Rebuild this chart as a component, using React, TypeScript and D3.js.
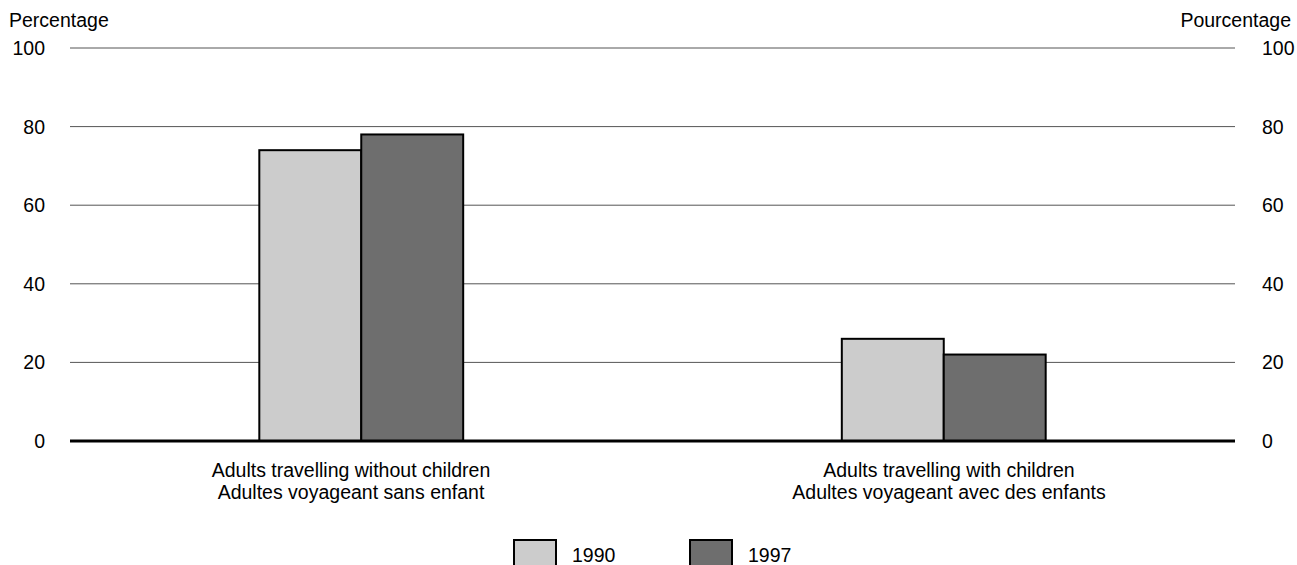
import React from "react";
import * as d3 from "d3";

const categories = [
  ["Adults travelling without children", "Adultes voyageant sans enfant"],
  ["Adults travelling with children", "Adultes voyageant avec des enfants"],
];
const series = ["1990", "1997"];
const values1990 = [74, 26];
const values1997 = [78, 22];
const ticks = [0, 20, 40, 60, 80, 100];
const colors = ["#cccccc", "#6e6e6e"];

export default function App() {
  const W = 1297, H = 565;
  const left = 70, right = 1235, top = 48, bottom = 441;
  const x = d3.scaleBand<number>().domain([0, 1]).range([left, right]);
  const xLabel = d3.scaleBand<number>().domain([0, 1]).range([52, 1248]);
  const y = d3.scaleLinear().domain([0, 100]).range([bottom, top]);
  const barW = x.bandwidth() * 0.175;
  const font = "'Liberation Sans', Arial, sans-serif";
  const fs = 19.5;
  const data = [values1990, values1997];
  return (
    <svg width={W} height={H} style={{ position: "absolute", left: 0, top: 0 }} fontFamily={font}>
      <rect width={W} height={H} fill="#fff" />
      <text x={9} y={27} fontSize={fs}>Percentage</text>
      <text x={1291} y={27} fontSize={fs} textAnchor="end">Pourcentage</text>
      {ticks.map((t) => (
        <g key={t}>
          {t !== 0 && <line x1={left} x2={right} y1={y(t)} y2={y(t)} stroke="#555" strokeWidth={1} />}
          <text x={45} y={y(t) + 7} fontSize={fs} textAnchor="end">{t}</text>
          <text x={1262} y={y(t) + 7} fontSize={fs}>{t}</text>
        </g>
      ))}
      {categories.map((c, i) => {
        const cx = x(i)! + x.bandwidth() / 2;
        const lx = xLabel(i)! + xLabel.bandwidth() / 2;
        return (
          <g key={i}>
            {series.map((s, j) => {
              const v = data[j][i];
              return (
                <rect key={s} x={cx - barW + j * barW} y={y(v)} width={barW} height={bottom - y(v)}
                  fill={colors[j]} stroke="#000" strokeWidth={2} />
              );
            })}
            <text x={lx} y={477} fontSize={fs} textAnchor="middle">{c[0]}</text>
            <text x={lx} y={499} fontSize={fs} textAnchor="middle">{c[1]}</text>
          </g>
        );
      })}
      <line x1={left} x2={right} y1={bottom} y2={bottom} stroke="#000" strokeWidth={3} />
      {series.map((s, j) => {
        const lx = j === 0 ? 514 : 690;
        return (
          <g key={s}>
            <rect x={lx} y={540} width={42} height={30} fill={colors[j]} stroke="#000" strokeWidth={2} />
            <text x={lx + 58} y={562} fontSize={fs}>{s}</text>
          </g>
        );
      })}
    </svg>
  );
}
